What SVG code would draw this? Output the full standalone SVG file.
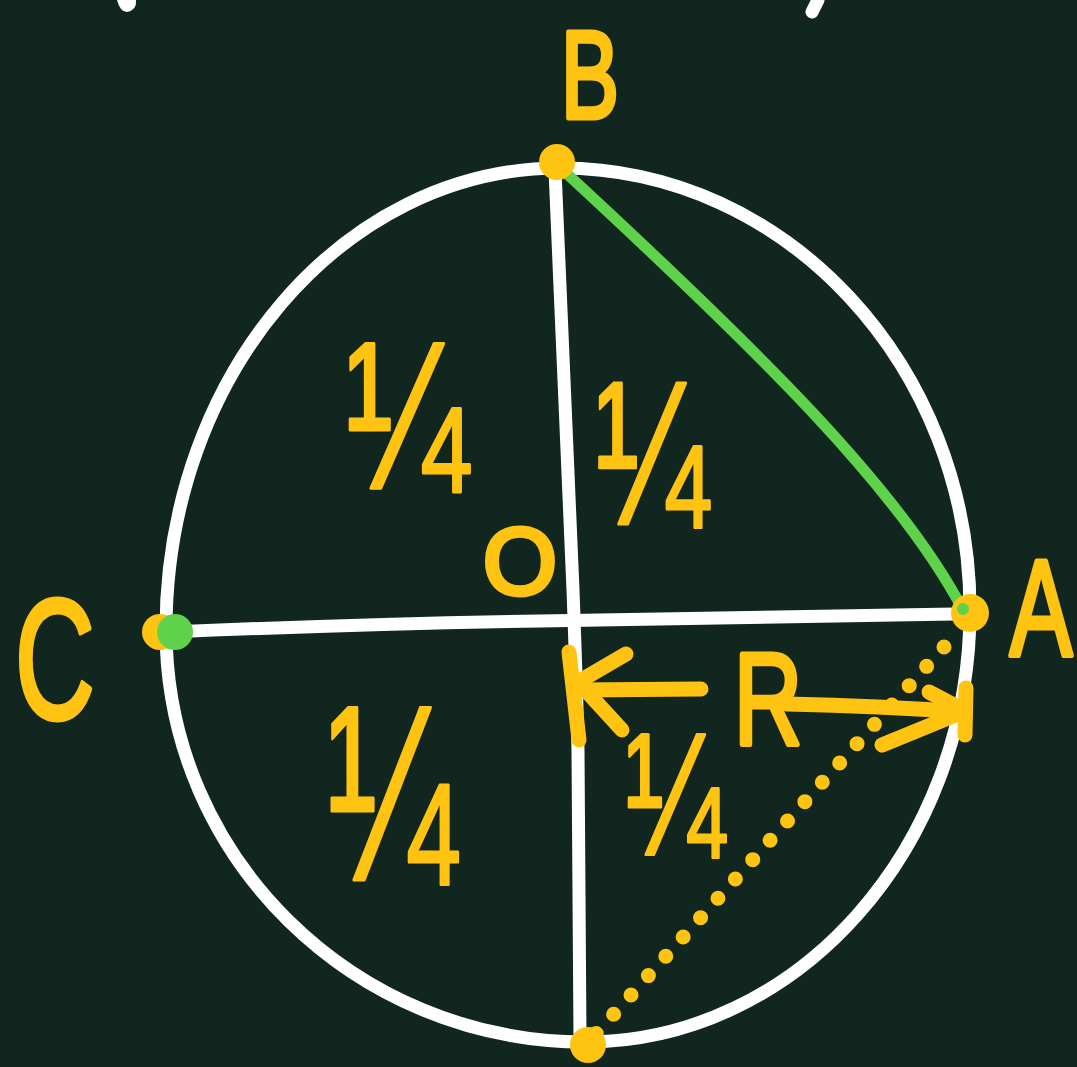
<svg xmlns="http://www.w3.org/2000/svg" width="1077" height="1067" viewBox="0 0 1077 1067">
<style>
.w{fill:none;stroke:#ffffff;stroke-width:13;stroke-linecap:round;stroke-linejoin:round}
.y{fill:none;stroke:#ffc312;stroke-width:15;stroke-linecap:round;stroke-linejoin:round}
.g{fill:none;stroke:#5fd24c;stroke-width:11;stroke-linecap:round}
.lbl{font-family:"Liberation Sans",Arial,sans-serif;fill:#ffc312;stroke:#ffc312;stroke-width:5;stroke-linejoin:round;text-anchor:middle}
.frac{font-family:"Liberation Sans",Arial,sans-serif;fill:#ffc312;stroke:#ffc312;stroke-width:3;stroke-linejoin:round;text-anchor:middle}
.dotY{fill:#ffc312}
.dotG{fill:#5fd24c}
</style>
<rect width="1077" height="1067" fill="#122620"/>
<g id="top-fragments">
<path d="M117,0 Q120,12 127,12 Q137,10 136,0 Z" fill="#ffffff"/>
<path d="M818,0 L812,12" class="w" stroke-width="8"/>
</g>
<g id="circle">
<path class="w" d="M560,168 C786,168 970,366 970,610 C970,848 797,1042 585,1042 C354,1042 166,857 166,630 C166,375 343,168 560,168 Z"/>
</g>
<g id="connectors">
<path class="w" d="M555,170 Q562,330 573,590 Q577,700 578,750 L580,1040"/>
<path class="w" d="M170,632 Q360,624 540,621 Q760,617 955,614"/>
<path class="g" d="M565,172 C760,352 900,490 963,610"/>
<path class="y" stroke-width="14" stroke-dasharray="0 26" d="M944,647 L595,1035"/>
<g id="radius-arrow">
<path class="y" d="M569,652 L579,740"/>
<path class="y" d="M578,690 L701,689"/>
<path class="y" d="M626,654 L578,682 L622,730"/>
<path class="y" d="M787,704 Q880,706 965,712"/>
<path class="y" d="M929,692 L965,711 L882,745"/>
<path class="y" d="M966,688 L965,735"/>
</g>
</g>
<g id="node-B">
<circle class="dotY" cx="557" cy="162" r="18"/>
<text class="lbl" font-size="125" transform="translate(590,118) scale(0.7,1)">B</text>
</g>
<g id="node-C">
<circle class="dotY" cx="160" cy="632" r="18"/>
<circle class="dotG" cx="175" cy="632" r="18"/>
<text class="lbl" font-size="170" transform="translate(55,718) scale(0.65,1)">C</text>
</g>
<g id="node-A">
<circle class="dotY" cx="970" cy="613" r="19"/>
<circle class="dotG" cx="963" cy="609" r="6"/>
<text class="lbl" font-size="138" transform="translate(1041,656) scale(0.68,1)">A</text>
</g>
<g id="node-bottom">
<circle class="dotY" cx="588" cy="1045" r="18"/>
</g>
<g id="node-O">
<text class="lbl" font-size="95" stroke-width="4" x="520" y="594">O</text>
</g>
<g id="label-R">
<text class="lbl" font-size="132" transform="translate(768,745) scale(0.72,1)">R</text>
</g>
<g id="quarter-TL">
<text class="frac" font-size="210" transform="translate(407,488) scale(0.7,1)">¼</text>
</g>
<g id="quarter-TR">
<text class="frac" font-size="205" transform="translate(652,524) scale(0.66,1)">¼</text>
</g>
<g id="quarter-BL">
<text class="frac" font-size="250" transform="translate(392,880) scale(0.62,1)">¼</text>
</g>
<g id="quarter-BR">
<text class="frac" font-size="175" transform="translate(675,855) scale(0.68,1)">¼</text>
</g>
</svg>
